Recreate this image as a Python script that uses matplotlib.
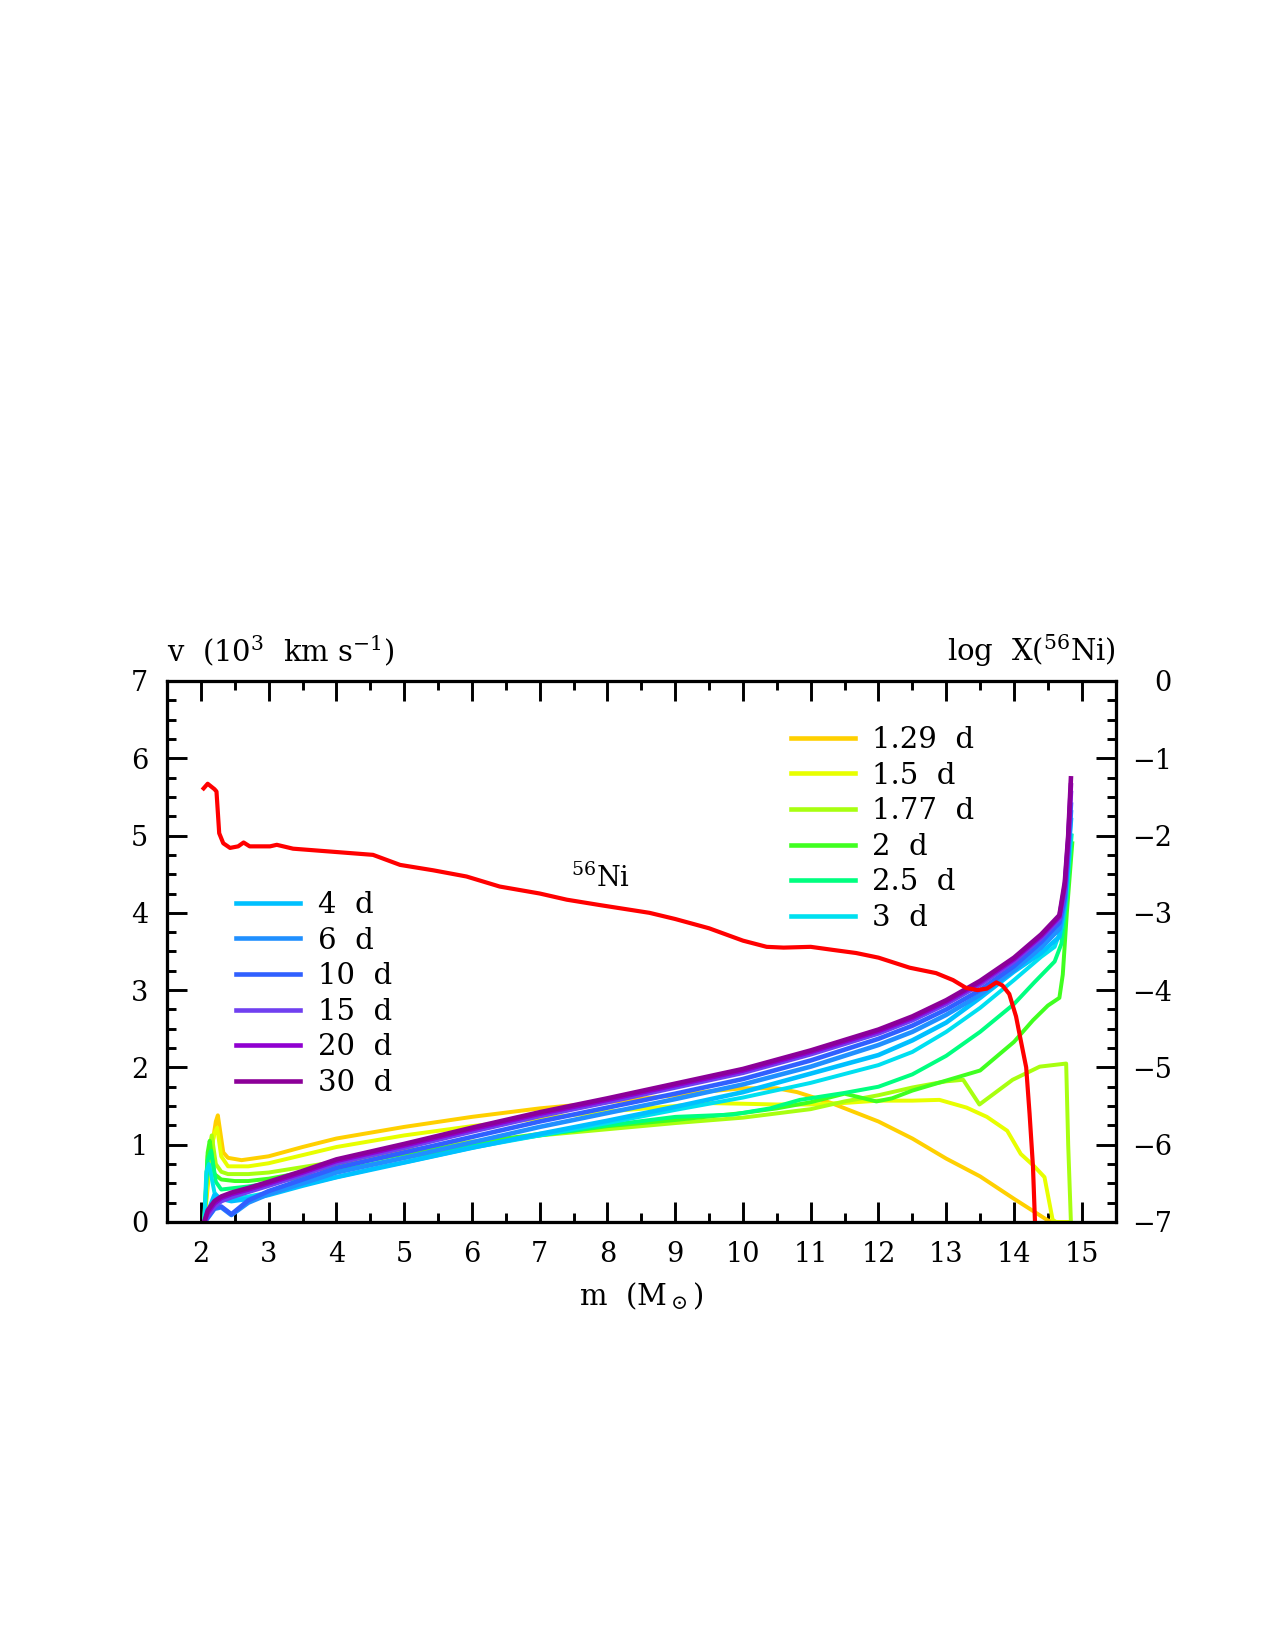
import numpy as np
import matplotlib
matplotlib.use('Agg')
import matplotlib.pyplot as plt

plt.rcParams['font.family'] = ['DejaVu Serif']
plt.rcParams['mathtext.fontset'] = 'dejavuserif'

### data: velocity profiles v(m) in 10^3 km/s for each epoch
m_late = [2.05, 2.1, 2.2, 2.3, 2.45, 2.7, 3.0, 3.5, 4.0, 5.0, 6.0, 7.0, 8.0, 9.0,
          10.0, 11.0, 12.0, 12.5, 13.0, 13.5, 14.0, 14.4, 14.67, 14.75, 14.8, 14.84]
v_30d = [0.0, 0.15, 0.27, 0.33, 0.38, 0.44, 0.52, 0.66, 0.81, 1.01, 1.22, 1.42, 1.60, 1.79,
         1.98, 2.22, 2.49, 2.66, 2.87, 3.12, 3.42, 3.72, 3.97, 4.40, 5.00, 5.74]
v_20d = [0.0, 0.12, 0.24, 0.31, 0.36, 0.42, 0.50, 0.64, 0.79, 0.99, 1.20, 1.40, 1.58, 1.77,
         1.96, 2.20, 2.47, 2.64, 2.85, 3.10, 3.40, 3.70, 3.95, 4.35, 4.95, 5.65]
v_15d = [0.0, 0.08, 0.20, 0.27, 0.32, 0.39, 0.47, 0.61, 0.76, 0.96, 1.17, 1.37, 1.55, 1.74,
         1.93, 2.17, 2.44, 2.61, 2.82, 3.07, 3.37, 3.67, 3.92, 4.30, 4.90, 5.55]
v_10d = [0.0, 0.06, 0.18, 0.20, 0.10, 0.28, 0.40, 0.55, 0.70, 0.90, 1.10, 1.30, 1.48, 1.66,
         1.85, 2.09, 2.37, 2.54, 2.75, 3.00, 3.31, 3.62, 3.87, 4.20, 4.80, 5.40]
v_6d = [0.0, 0.05, 0.17, 0.19, 0.09, 0.25, 0.36, 0.50, 0.64, 0.83, 1.03, 1.23, 1.41, 1.59,
        1.78, 2.01, 2.29, 2.46, 2.68, 2.94, 3.26, 3.55, 3.79, 4.15, 4.75, 5.30]
v_4d = [0.0, 0.12, 0.35, 0.30, 0.27, 0.30, 0.35, 0.47, 0.58, 0.77, 0.96, 1.14, 1.31, 1.49,
        1.68, 1.92, 2.16, 2.35, 2.58, 2.90, 3.24, 3.48, 3.69, 4.10, 4.70, 5.20]

m_3d = [2.05, 2.08, 2.12, 2.2, 2.3, 2.5, 2.7, 3.0, 3.5, 4.0, 4.7, 5.0, 6.0, 7.0, 8.0, 9.0,
        10.0, 11.0, 12.0, 12.5, 13.0, 13.5, 14.0, 14.4, 14.6, 14.7, 14.78, 14.84]
v_3d = [0.0, 0.65, 0.75, 0.38, 0.28, 0.30, 0.33, 0.38, 0.48, 0.58, 0.72, 0.77, 0.96, 1.12,
        1.28, 1.45, 1.61, 1.80, 2.03, 2.20, 2.46, 2.77, 3.13, 3.43, 3.56, 3.80, 4.30, 5.00]

m_2p5d = [2.05, 2.1, 2.15, 2.22, 2.3, 2.5, 2.7, 3.0, 3.5, 4.0, 5.0, 6.0, 7.0, 8.0, 9.0, 9.85,
          10.4, 10.84, 11.5, 12.0, 12.5, 13.0, 13.5, 14.0, 14.3, 14.6, 14.7, 14.78, 14.85]
v_2p5d = [0.0, 0.80, 0.92, 0.52, 0.42, 0.44, 0.46, 0.50, 0.58, 0.66, 0.83, 0.98, 1.12, 1.25,
          1.36, 1.39, 1.47, 1.58, 1.67, 1.75, 1.91, 2.15, 2.46, 2.82, 3.10, 3.37, 3.60, 4.20, 5.00]

m_2d = [2.05, 2.1, 2.13, 2.2, 2.3, 2.5, 2.7, 3.0, 3.5, 4.0, 5.0, 6.0, 7.0, 7.5, 8.0, 9.0,
        10.0, 10.5, 11.0, 11.5, 11.97, 12.2, 12.5, 13.0, 13.5, 14.0, 14.28, 14.5, 14.67, 14.72,
        14.78, 14.86]
v_2d = [0.0, 0.90, 1.05, 0.62, 0.55, 0.53, 0.53, 0.56, 0.64, 0.72, 0.88, 1.02, 1.14, 1.18,
        1.24, 1.32, 1.41, 1.47, 1.55, 1.66, 1.56, 1.60, 1.70, 1.83, 1.96, 2.33, 2.61, 2.80,
        2.90, 3.20, 4.00, 4.90]

m_1p77d = [2.05, 2.1, 2.16, 2.22, 2.3, 2.4, 2.7, 3.0, 3.5, 4.0, 5.0, 6.0, 7.0, 8.0, 9.0, 10.0,
           11.0, 11.5, 12.0, 12.5, 13.0, 13.25, 13.49, 13.98, 14.38, 14.77, 14.8, 14.84]
v_1p77d = [0.0, 0.85, 1.12, 0.75, 0.65, 0.62, 0.62, 0.64, 0.71, 0.78, 0.92, 1.04, 1.12, 1.20,
           1.28, 1.35, 1.46, 1.56, 1.64, 1.74, 1.82, 1.84, 1.52, 1.84, 2.01, 2.05, 1.00, 0.0]

m_1p5d = [2.05, 2.12, 2.2, 2.24, 2.3, 2.4, 2.7, 3.0, 4.0, 5.0, 6.0, 7.0, 8.0, 9.0, 9.4, 10.0,
          10.5, 11.0, 11.5, 12.0, 12.5, 12.9, 13.3, 13.6, 13.9, 14.1, 14.3, 14.45, 14.57, 14.62,
          14.83]
v_1p5d = [0.0, 0.80, 1.15, 1.22, 0.85, 0.72, 0.72, 0.76, 0.97, 1.12, 1.24, 1.34, 1.43, 1.50,
          1.54, 1.53, 1.52, 1.52, 1.54, 1.57, 1.57, 1.58, 1.48, 1.36, 1.18, 0.88, 0.72, 0.58,
          0.03, 0.0, 0.0]

m_1p29d = [2.05, 2.15, 2.22, 2.25, 2.28, 2.33, 2.4, 2.6, 3.0, 3.5, 4.0, 5.0, 6.0, 7.0, 8.0,
           9.0, 9.5, 10.0, 10.5, 10.8, 11.3, 12.0, 12.5, 13.0, 13.5, 14.0, 14.5, 14.6]
v_1p29d = [0.0, 0.90, 1.30, 1.38, 1.20, 0.90, 0.83, 0.80, 0.85, 0.97, 1.08, 1.23, 1.36, 1.47,
           1.55, 1.64, 1.69, 1.73, 1.73, 1.68, 1.54, 1.30, 1.08, 0.82, 0.59, 0.30, 0.02, 0.0]

# 56Ni mass fraction (log), right axis
m_ni = [2.04, 2.1, 2.2, 2.23, 2.25, 2.27, 2.33, 2.43, 2.55, 2.63, 2.72, 3.02, 3.12, 3.36,
        3.95, 4.54, 4.94, 5.43, 5.92, 6.41, 7.0, 7.4, 7.89, 8.62, 9.0, 9.5, 10.0, 10.35, 10.6,
        11.0, 11.33, 11.67, 12.0, 12.46, 12.85, 13.1, 13.29, 13.46, 13.6, 13.74, 13.83, 13.93,
        14.03, 14.1, 14.18, 14.23, 14.28, 14.31]
logx_ni = [-1.39, -1.33, -1.40, -1.43, -1.70, -1.97, -2.10, -2.16, -2.14, -2.09, -2.14, -2.14,
           -2.12, -2.17, -2.21, -2.25, -2.38, -2.45, -2.53, -2.66, -2.75, -2.83, -2.90, -3.00,
           -3.08, -3.20, -3.36, -3.44, -3.45, -3.44, -3.48, -3.52, -3.58, -3.71, -3.78, -3.87,
           -3.97, -4.00, -3.98, -3.90, -3.94, -4.05, -4.34, -4.65, -5.00, -5.60, -6.28, -7.00]

early_labels = ['1.29  d', '1.5  d', '1.77  d', '2  d', '2.5  d', '3  d']
late_labels = ['4  d', '6  d', '10  d', '15  d', '20  d', '30  d']
early_colors = ['#FFD000', '#E8FF00', '#A8FF10', '#40FF20', '#00FF80', '#00E0F0']
late_colors = ['#00C0FF', '#2090FF', '#3060FF', '#7040F0', '#9000D0', '#8C0098']

early = [(m_1p29d, v_1p29d), (m_1p5d, v_1p5d), (m_1p77d, v_1p77d),
         (m_2d, v_2d), (m_2p5d, v_2p5d), (m_3d, v_3d)]
late = [(m_late, v_4d), (m_late, v_6d), (m_late, v_10d),
        (m_late, v_15d), (m_late, v_20d), (m_late, v_30d)]

### plot
fig = plt.figure(figsize=(8.5, 11), dpi=150)
ax = fig.add_axes([0.131, 0.2594, 0.744, 0.3279])

early_handles = []
for (m, v), c, lab in zip(early, early_colors, early_labels):
    h, = ax.plot(m, v, color=c, lw=1.9, label=lab, solid_joinstyle='round')
    early_handles.append(h)
late_handles = []
for (m, v), c, lab in zip(late, late_colors, late_labels):
    h, = ax.plot(m, v, color=c, lw=2.2, label=lab, solid_joinstyle='round')
    late_handles.append(h)

ax.set_xlim(1.5, 15.5)
ax.set_ylim(0, 7)
ax.set_xticks(range(2, 16))
ax.set_xticks(np.arange(1.5, 15.51, 0.5), minor=True)
ax.set_yticks(range(0, 8))
ax.set_yticks(np.arange(0, 7.01, 0.25), minor=True)
ax.tick_params(which='both', direction='in', top=True, right=False, width=1.4,
               labelsize=13)
ax.tick_params(which='major', length=9.5, pad=9)
ax.tick_params(which='minor', length=4.5)
for s in ax.spines.values():
    s.set_linewidth(1.5)

ax.set_xlabel(r'm  (M$_\odot$)', fontsize=14, labelpad=6)
ax.text(0.0, 1.036, r'v  (10$^3$  km s$^{-1}$)', transform=ax.transAxes,
        ha='left', va='baseline', fontsize=14)
ax.text(1.0, 1.036, r'log  X($^{56}$Ni)', transform=ax.transAxes,
        ha='right', va='baseline', fontsize=14)
ax.text(7.9, 4.45, r'$^{56}$Ni', ha='center', va='center', fontsize=13)

ax2 = ax.twinx()
ax2.plot(m_ni, logx_ni, color='#FF0000', lw=2.0)
ax2.set_ylim(-7, 0)
ax2.set_yticks(range(-7, 1))
ax2.set_yticks(np.arange(-7, 0.01, 0.25), minor=True)
ax2.tick_params(which='both', direction='in', width=1.4, labelsize=13)
ax2.tick_params(which='major', length=9.5, pad=27)
ax2.tick_params(which='minor', length=4.5)
for lbl in ax2.get_yticklabels():
    lbl.set_horizontalalignment('right')
for s in ax2.spines.values():
    s.set_linewidth(1.5)

leg1 = ax.legend(handles=late_handles, loc='upper left', bbox_to_anchor=(0.185, 0.460),
                 bbox_transform=fig.transFigure, frameon=False, fontsize=14,
                 handlelength=2.2, handletextpad=0.6, labelspacing=0.26,
                 borderpad=0, borderaxespad=0)
for l in leg1.get_lines():
    l.set_linewidth(2.2)
ax.add_artist(leg1)
leg2 = ax.legend(handles=early_handles, loc='upper left', bbox_to_anchor=(0.620, 0.560),
                 bbox_transform=fig.transFigure, frameon=False, fontsize=14,
                 handlelength=2.2, handletextpad=0.6, labelspacing=0.26,
                 borderpad=0, borderaxespad=0)
for l in leg2.get_lines():
    l.set_linewidth(2.2)

fig.savefig('out.png', dpi=150)
